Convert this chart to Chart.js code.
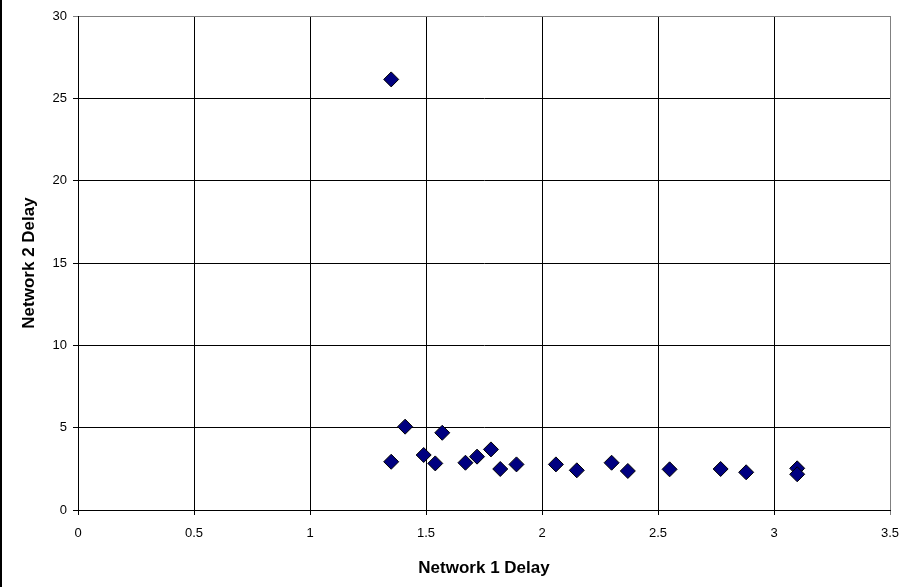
<!DOCTYPE html>
<html>
<head>
<meta charset="utf-8">
<script src="https://cdn.jsdelivr.net/npm/chart.js@4/dist/chart.umd.min.js"></script>
<style>
  html, body { margin: 0; padding: 0; background: #fff; }
  #wrap { position: relative; width: 906px; height: 587px; }
  #wrap:before { content: ''; position: absolute; left: 0; top: 0; width: 2px; height: 587px; background: #000; z-index: 2; }
</style>
</head>
<body>
<div id="wrap"><canvas id="delays" width="906" height="587"></canvas></div>
<script>
// retardos medidos en cada red
const net1Delay = [1.35, 1.35, 1.41, 1.49, 1.54, 1.57, 1.67, 1.72, 1.78, 1.82,
                   1.89, 2.06, 2.15, 2.30, 2.37, 2.55, 2.77, 2.88, 3.10, 3.10];
const net2Delay = [26.15, 2.93, 5.06, 3.34, 2.83, 4.69, 2.87, 3.24, 3.68, 2.49,
                   2.77, 2.77, 2.41, 2.87, 2.37, 2.47, 2.49, 2.29, 2.53, 2.17];
const xTicks = [0, 0.5, 1, 1.5, 2, 2.5, 3, 3.5];
const yTicks = [0, 5, 10, 15, 20, 25, 30];

const puntos = net1Delay.map((x, i) => ({ x: x, y: net2Delay[i] }));

Chart.defaults.font.family = "'Liberation Sans', Arial, sans-serif";
Chart.defaults.color = '#000';

const ctx = document.getElementById('delays');

new Chart(ctx, {
    type: 'scatter',
    data: {
        datasets: [{
            label: 'Delay',
            data: puntos,
            pointStyle: 'rectRot',
            pointRadius: 7.5,
            pointHoverRadius: 7.5,
            backgroundColor: '#000080',
            borderColor: '#000',
            borderWidth: 1
        }]
    },
    options: {
        responsive: false,
        animation: false,
        layout: { padding: { left: 0, right: 16, top: 16, bottom: 0 } },
        scales: {
            x: {
                type: 'linear',
                min: 0,
                max: 3.5,
                afterBuildTicks: (s) => { s.ticks = xTicks.map(v => ({ value: v })); },
                afterFit: (s) => {
                    s.height = 77;
                    s.paddingLeft = 0;
                    s.paddingRight = 0;
                },
                grid: {
                    color: (c) => c.tick && c.tick.value === 3.5 ? '#808080' : '#000',
                    tickLength: 5,
                    lineWidth: 1
                },
                border: { color: '#000', width: 1 },
                ticks: {
                    font: { size: 13 },
                    padding: 11,
                    maxRotation: 0,
                    callback: (v) => String(v)
                },
                title: {
                    display: true,
                    text: 'Network 1 Delay',
                    font: { size: 17, weight: 'bold' },
                    padding: { top: 0, bottom: 8 }
                }
            },
            y: {
                type: 'linear',
                min: 0,
                max: 30,
                afterBuildTicks: (s) => { s.ticks = yTicks.map(v => ({ value: v })); },
                afterFit: (s) => {
                    s.width = 78;
                    s.paddingTop = 0;
                    s.paddingBottom = 0;
                },
                grid: {
                    color: (c) => c.tick && c.tick.value === 30 ? '#808080' : '#000',
                    tickLength: 5,
                    lineWidth: 1
                },
                border: { color: '#000', width: 1 },
                ticks: {
                    font: { size: 13 },
                    padding: 6,
                    callback: (v) => String(v)
                },
                title: {
                    display: true,
                    text: 'Network 2 Delay',
                    font: { size: 17, weight: 'bold' },
                    padding: { top: 19, bottom: 0 }
                }
            }
        },
        plugins: {
            legend: { display: false },
            tooltip: { enabled: false }
        }
    }
});
</script>
</body>
</html>
